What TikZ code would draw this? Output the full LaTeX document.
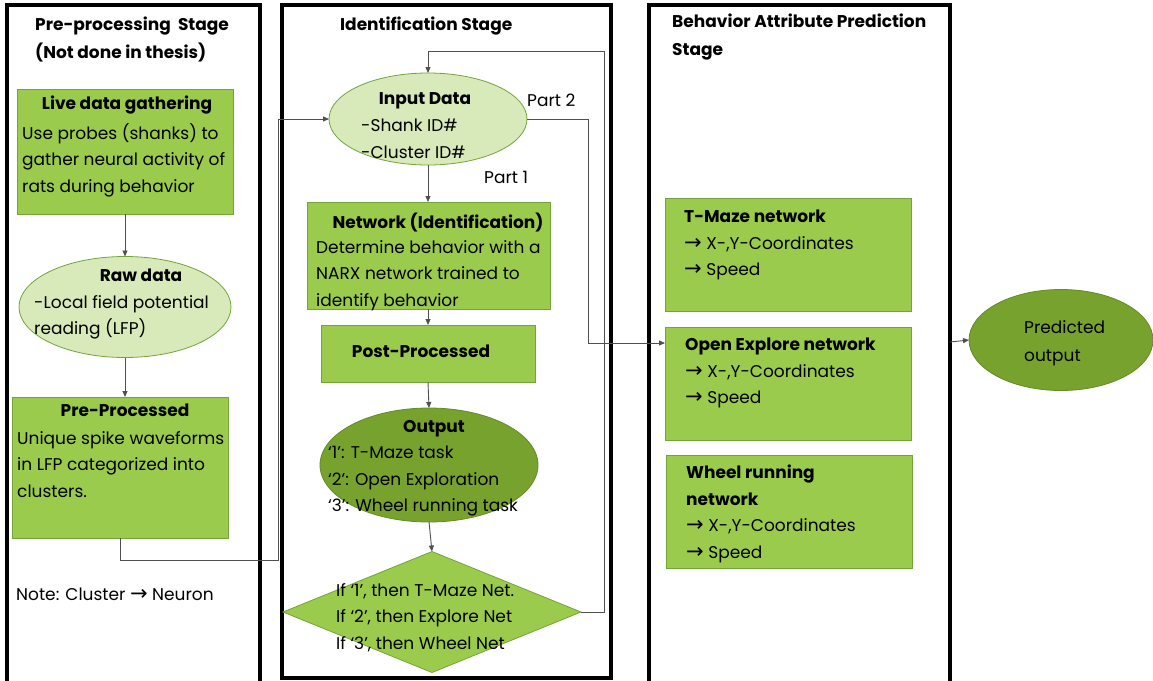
\documentclass[tikz,border=0pt]{standalone}
\usepackage{fontspec}
\setmainfont{Poppins}
\newfontfamily\symbolfont{DejaVu Sans}
\newcommand\arrowglyph{{\symbolfont\fontsize{21}{26}\selectfont\symbol{"2192}}}
\usetikzlibrary{shapes.geometric,arrows.meta}
\definecolor{boxgreen}{HTML}{9BCB4C}
\definecolor{edgegreen}{HTML}{74A33C}
\definecolor{palegreen}{HTML}{D8EAB9}
\definecolor{darkgreen}{HTML}{77A22E}
\definecolor{wiregray}{HTML}{505050}
\begin{document}
\begin{tikzpicture}[x=1pt,y=-1pt,
  stage/.style={draw=black,line width=3.5pt,inner sep=0pt,outer sep=0pt,anchor=north west},
  greenbox/.style={draw=edgegreen,fill=boxgreen,line width=0.8pt,inner sep=0pt,outer sep=0pt,anchor=north west},
  paleoval/.style={ellipse,draw=edgegreen,fill=palegreen,line width=0.8pt,inner sep=0pt,outer sep=0pt},
  darkoval/.style={ellipse,draw=darkgreen!85!black,fill=darkgreen,line width=0.8pt,inner sep=0pt,outer sep=0pt},
  txt/.style={font=\fontsize{17}{26.5}\selectfont,align=left,inner sep=0pt,anchor=north west},
  head/.style={font=\fontsize{17}{27.5}\selectfont\bfseries,align=left,inner sep=0pt,anchor=north west},
  wire/.style={draw=wiregray,line width=0.9pt},
  arr/.style={wire,-{Triangle[length=6pt,width=5pt]}},
]
\useasboundingbox (0,0) rectangle (1153,680);
\clip (0,0) rectangle (1153,680);

% stage panels
\node[stage,minimum width=253pt,minimum height=690pt] (pre) at (7,5) {};
\node[stage,minimum width=329pt,minimum height=673pt] (ident) at (282,5) {};
\node[stage,minimum width=301pt,minimum height=690pt] (pred) at (649,5) {};

\node[head] (preT) at (35,17) {Pre-processing\ \ Stage\\(Not done in thesis)};
\node[head] (identT) at (340,17) {Identification Stage};
\node[head] (predT) at (672,14) {Behavior Attribute Prediction\\Stage};

% pre-processing stage
\node[greenbox,minimum width=216pt,minimum height=125pt] (live) at (17,89) {};
\node[head,anchor=north] (liveT) at (127,96) {Live data gathering};
\node[txt] (liveB) at (22,123) {Use probes (shanks) to\\gather neural activity of\\rats during behavior};

\node[paleoval,minimum width=212pt,minimum height=101pt] (raw) at (125,307) {};
\node[head,anchor=north] (rawT) at (141,269) {Raw data};
\node[txt] (rawB) at (34,295) {-Local field potential\\reading (LFP)};

\node[greenbox,minimum width=216pt,minimum height=141pt] (proc) at (12,397) {};
\node[head,anchor=north] (procT) at (125,404) {Pre-Processed};
\node[txt] (procB) at (17,431) {Unique spike waveforms\\in LFP categorized into\\clusters.};

\node[txt] (note) at (16,588) {Note: Cluster \arrowglyph\ Neuron};

% identification stage
\node[paleoval,minimum width=198pt,minimum height=92pt] (input) at (428,119) {};
\node[head,anchor=north] (inputT) at (425,92) {Input Data};
\node[txt] (inputB) at (361,119) {-Shank ID\#\\-Cluster ID\#};
\node[txt] (part2) at (527,94) {Part 2};
\node[txt] (part1) at (484,171) {Part 1};

\node[greenbox,minimum width=243pt,minimum height=107pt] (net) at (307,202) {};
\node[head,anchor=north] (netT) at (438,213) {Network (Identification)};
\node[txt] (netB) at (316,240) {Determine behavior with a\\NARX network trained to\\identify behavior};

\node[greenbox,minimum width=214pt,minimum height=57pt] (post) at (321,325) {};
\node[head,anchor=north] (postT) at (421,345) {Post-Processed};

\node[darkoval,minimum width=218pt,minimum height=114pt] (out) at (429,465) {};
\node[head,anchor=north] (outT) at (434,420) {Output};
\node[txt] (outB) at (328,446) {‘1’: T-Maze task\\‘2’: Open Exploration\\‘3’: Wheel running task};

\node[diamond,draw=edgegreen,fill=boxgreen,line width=0.8pt,inner sep=0pt,outer sep=0pt,
      minimum width=298pt,minimum height=121pt,aspect=2.46] (choose) at (432,612) {};
\node[txt] (chooseB) at (336,583) {If ‘1’, then T-Maze Net.\\If ‘2’, then Explore Net\\If ‘3’, then Wheel Net};

% behaviour attribute prediction stage
\node[greenbox,minimum width=246pt,minimum height=113pt] (tmaze) at (665,198) {};
\node[txt] (tmazeB) at (684,210) {\textbf{T-Maze network}\\\arrowglyph\ X-,Y-Coordinates\\\arrowglyph\ Speed};

\node[greenbox,minimum width=246pt,minimum height=113pt] (explore) at (665,327) {};
\node[txt] (exploreB) at (685,338) {\textbf{Open Explore network}\\\arrowglyph\ X-,Y-Coordinates\\\arrowglyph\ Speed};

\node[greenbox,minimum width=246pt,minimum height=113pt] (wheel) at (666,455) {};
\node[txt] (wheelB) at (686,465) {\textbf{Wheel running}\\\textbf{network}\\\arrowglyph\ X-,Y-Coordinates\\\arrowglyph\ Speed};

\node[darkoval,minimum width=184pt,minimum height=101pt] (result) at (1061,340) {};
\node[txt,font=\fontsize{17}{28}\selectfont] (resultB) at (1024,320) {Predicted\\output};

% connectors
\draw[arr] (live.south -| 125,0) -- (raw.north);
\draw[arr] (raw.south) -- (raw.south |- proc.north);
\draw[arr] (proc.south -| 120,0) |- (278,560) |- (input.west);
\draw[arr] (input.south) -- (net.north -| input.south);
\draw[arr] (net.south -| input.south) -- (post.north -| input.south);
\draw[arr] (post.south -| input.south) -- (out.north);
\draw[arr] (out.south) -- (choose.north);
\draw[arr] (choose.east) -| (604,51) -| (input.north);
\draw[arr] (input.east) -| (588,343) -- (explore.west |- 0,343);
\draw[arr] (pred.east |- 0,342) -- (result.west);
\end{tikzpicture}
\end{document}
